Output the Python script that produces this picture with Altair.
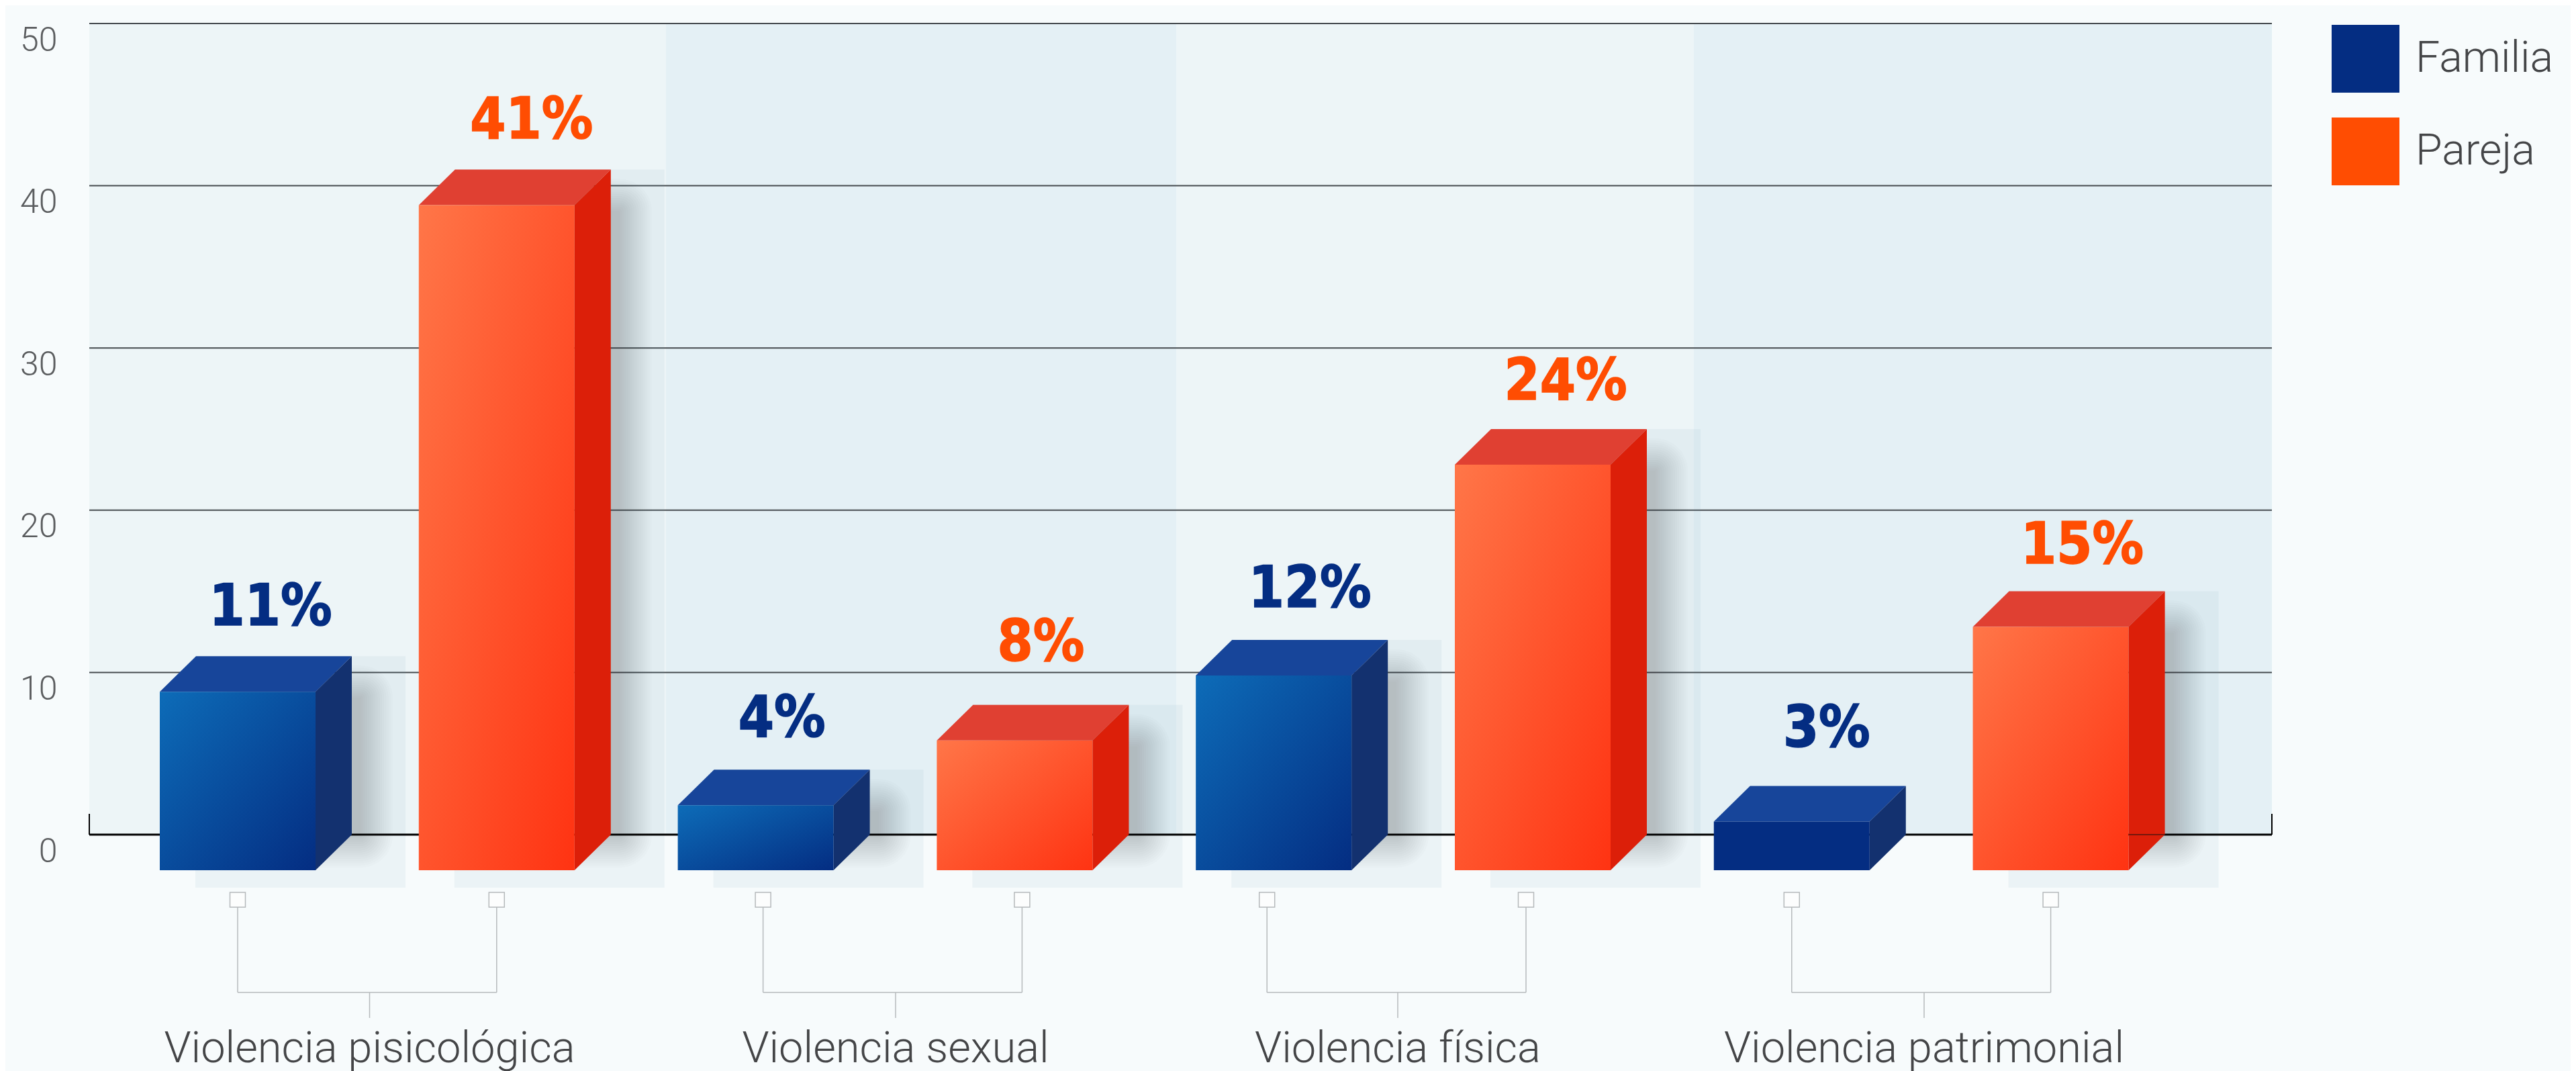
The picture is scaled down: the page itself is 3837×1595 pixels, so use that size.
import altair as alt
import pandas as pd

# ---- data ----
categorias = ["Violencia pisicológica", "Violencia sexual", "Violencia física", "Violencia patrimonial"]
familia = [11, 4, 12, 3]
pareja = [41, 8, 24, 15]
# the drawn height of the 24 % bar in the reference reaches 25 on the axis
altura_familia = [11, 4, 12, 3]
altura_pareja = [41, 8, 25, 15]
series = ["Familia", "Pareja"]
y_ticks = [0, 10, 20, 30, 40, 50]

# ---- layout helpers (pixel -> data units) ----
W, H = 3251, 1208
PX_Y = H / 50.0
def yv(py):
    return (1243 - py) / PX_Y
def xv(px):
    return px - 133

BAR_W, DX, DYP = 232, 54, 53
DY = DYP / PX_Y
SLOT0, SLOT = xv(238), 385.8
FONT = "Roboto"
TXT = "#444547"
# hand nudges of the value labels, in pixels, bar by bar
label_dx = [-5, -2, -15, -15, 0, -5, -2, -7]
label_dy = [2, 2, 5, 22, 5, 0, 15, -2]

rows = []
for g, cat in enumerate(categorias):
    for s, (name, vals, alts) in enumerate(zip(series, [familia, pareja], [altura_familia, altura_pareja])):
        i = g * 2 + s
        v, a = vals[g], alts[g]
        x0 = SLOT0 + SLOT * i
        rows.append(dict(id=i, cat=cat, serie=name, valor=a, etiqueta=f"{v}%",
                         x0=x0, x1=x0 + BAR_W, xb=x0 + DX, x1b=x0 + BAR_W + DX,
                         ftop=a - DY, fbot=-DY, lx=x0 + DX + BAR_W / 2 + label_dx[i],
                         ly=a + (44 + label_dy[i]) / PX_Y))
bars = pd.DataFrame(rows)

xs = alt.Scale(domain=[0, W], nice=False, zero=False)
ys = alt.Scale(domain=[0, 50], nice=False, zero=False)
y_axis = alt.Axis(values=y_ticks, grid=False, domain=False, ticks=False, title=None,
                  labelFont=FONT, labelFontWeight=300, labelFontSize=50, labelColor="#5b5d5f",
                  labelPadding=48, labelOffset=25, labelAlign="right", labelBaseline="middle",
                  labelFlush=False, labelOverlap=False, labelBound=False)
def X(f): return alt.X(f, type="quantitative", scale=xs, axis=None, title=None)
def Y(f, **k): return alt.Y(f, type="quantitative", scale=ys, axis=y_axis, title=None, **k)
def X2(f): return alt.X2(f)
def Y2(f): return alt.Y2(f)

layers = []

# alternating background bands (one per category)
bands = pd.DataFrame({"a": [0, xv(992), xv(1752), xv(2523)],
                      "b": [xv(992), xv(1752), xv(2523), W],
                      "c": ["#edf5f7", "#e4f0f5", "#edf5f7", "#e4f0f5"],
                      "t": 0, "u": 50})
layers.append(alt.Chart(bands).mark_rect().encode(
    x=X("a"), x2=X2("b"), y=Y("t"), y2=Y2("u"),
    color=alt.Color("c:N", scale=None)))

# gridlines
grid = pd.DataFrame({"y": [t for t in y_ticks if t > 0]})
layers.append(alt.Chart(grid).mark_rule(color="#474c50", strokeWidth=2).encode(
    y=Y("y"), x=alt.value(0), x2=alt.value(W)))

# translucent panels behind bars
panels = bars[bars.valor > 3].copy()
panels["pa"] = panels.x0 + 53
panels["pb"] = panels.x0 + 366
panels["pbot"] = yv(1322)
layers.append(alt.Chart(panels).mark_rect(color="#649db8", opacity=0.08).encode(
    x=X("pa"), x2=X2("pb"), y=Y("valor"), y2=Y2("pbot")))

# axis base line with end ticks
layers.append(alt.Chart(pd.DataFrame({"y": [0]})).mark_rule(color="#000000", strokeWidth=3).encode(
    y=Y("y"), x=alt.value(0), x2=alt.value(W)))
ends = pd.DataFrame({"x": [0, W], "a": [yv(1212)] * 2, "b": [0, 0]})
layers.append(alt.Chart(ends).mark_rule(color="#000000", strokeWidth=2).encode(
    x=X("x"), y=Y("a"), y2=Y2("b")))

# soft drop shadows: stacked concentric rectangles
N = 16
for k in range(N):
    inset = 24 - k * 48 / (N - 1)   # positive = larger
    sh = panels.copy()
    sh["sa"] = sh.x0 + 100 - inset
    sh["sb"] = sh.x1b + 37 + inset
    sh["st"] = sh.valor - (38 - inset) / PX_Y
    sh["sd"] = -(25 + inset) / PX_Y
    layers.append(alt.Chart(sh).mark_rect(color="#39424a", opacity=0.016,
                                          cornerRadius=max(1, inset + 24)).encode(
        x=X("sa"), x2=X2("sb"), y=Y("st"), y2=Y2("sd")))

# 3-D faces
palette = {
    "Familia": dict(a="#0d6cb8", b="#042d82", side="#13316f", top="#17459a"),
    "Pareja": dict(a="#ff7648", b="#ff3312", side="#dc1f09", top="#e04032"),
}
for name in series:
    d = bars[bars.serie == name]
    p = palette[name]
    # top face
    top_rows = []
    for r in d.itertuples():
        top_rows += [dict(id=r.id, x=r.x0, lo=r.ftop, up=r.ftop),
                     dict(id=r.id, x=r.xb, lo=r.ftop, up=r.valor),
                     dict(id=r.id, x=r.x1, lo=r.ftop, up=r.valor),
                     dict(id=r.id, x=r.x1b, lo=r.valor, up=r.valor)]
    layers.append(alt.Chart(pd.DataFrame(top_rows)).mark_area(color=p["top"], interpolate="linear").encode(
        x=X("x"), y=Y("up", stack=None), y2=Y2("lo"), detail="id:N"))
    # side face
    side_rows = []
    for r in d.itertuples():
        side_rows += [dict(id=r.id, x=r.x1, lo=r.fbot, up=r.ftop),
                      dict(id=r.id, x=r.x1b, lo=0.0, up=r.valor)]
    layers.append(alt.Chart(pd.DataFrame(side_rows)).mark_area(color=p["side"], interpolate="linear").encode(
        x=X("x"), y=Y("up", stack=None), y2=Y2("lo"), detail="id:N"))
    # front face
    grad = alt.LinearGradient(gradient="linear", x1=0, y1=0, x2=1, y2=1,
                              stops=[alt.GradientStop(color=p["a"], offset=0),
                                     alt.GradientStop(color=p["b"], offset=1)])
    layers.append(alt.Chart(d[d.valor > 3]).mark_rect(color=grad).encode(
        x=X("x0"), x2=X2("x1"), y=Y("ftop"), y2=Y2("fbot")))
    flat = d[d.valor <= 3]
    if len(flat):
        layers.append(alt.Chart(flat).mark_rect(color=p["b"]).encode(
            x=X("x0"), x2=X2("x1"), y=Y("ftop"), y2=Y2("fbot")))

# thin base line visible across the last bar's side face
last = bars.iloc[[-1]].copy()
last["y0"] = 0.0
layers.append(alt.Chart(last).mark_rule(color="#111111", strokeWidth=1).encode(
    x=X("x1"), x2=X2("x1b"), y=Y("y0")))

# value labels + legend
layers.append(alt.Chart(bars).mark_text(font="DejaVu Sans Condensed", fontWeight="bold", fontSize=85,
                                        strokeWidth=1.5, baseline="alphabetic", align="center").encode(
    x=X("lx"), y=Y("ly"), text="etiqueta:N",
    stroke=alt.Stroke("serie:N", scale=alt.Scale(domain=series, range=["#042d82", "#ff4d02"]), legend=None),
    color=alt.Color("serie:N",
                    scale=alt.Scale(domain=series, range=["#042d82", "#ff4d02"]),
                    legend=alt.Legend(title=None, orient="none", legendX=xv(3474) - 1, legendY=2,
                                      symbolType="square", symbolSize=10201, symbolStrokeWidth=0,
                                      labelFont=FONT, labelFontWeight=300, labelFontSize=64.5, labelColor=TXT,
                                      labelLimit=400, rowPadding=37, labelOffset=24, padding=0))))

# bracket connectors
shift = [0, 11, -10, 0]
stem = [xv(550.5), xv(1334), xv(2082), xv(2866)]
br_rows, sq_rows, stem_rows, cat_rows = [], [], [], []
for g, cat in enumerate(categorias):
    l = SLOT0 + SLOT * (2 * g) + BAR_W / 2 + shift[g]
    r = SLOT0 + SLOT * (2 * g + 1) + BAR_W / 2 + shift[g]
    br_rows.append(dict(a=l, b=r))
    for c in (l, r):
        sq_rows.append(dict(a=c - 11.5, b=c + 11.5, c=c, t=yv(1329), d=yv(1351), e=yv(1478)))
    stem_rows.append(dict(x=stem[g], a=yv(1478), b=yv(1516)))
    cat_rows.append(dict(x=stem[g], y=yv(1582), cat=cat))
LINE = "#b6babc"
layers.append(alt.Chart(pd.DataFrame(sq_rows)).mark_rule(color=LINE, strokeWidth=1.5).encode(
    x=X("c"), y=Y("d"), y2=Y2("e")))
layers.append(alt.Chart(pd.DataFrame(sq_rows)).mark_rect(fill="#fcfdfd", stroke="#b5b9bb", strokeWidth=1.5).encode(
    x=X("a"), x2=X2("b"), y=Y("t"), y2=Y2("d")))
hline = pd.DataFrame(br_rows)
hline["y"] = yv(1478)
layers.append(alt.Chart(hline).mark_rule(color=LINE, strokeWidth=1.5).encode(
    x=X("a"), x2=X2("b"), y=Y("y")))
layers.append(alt.Chart(pd.DataFrame(stem_rows)).mark_rule(color=LINE, strokeWidth=1.5).encode(
    x=X("x"), y=Y("a"), y2=Y2("b")))
layers.append(alt.Chart(pd.DataFrame(cat_rows)).mark_text(font=FONT, fontWeight=300, fontSize=65, color=TXT,
                                                          baseline="alphabetic", align="center").encode(
    x=X("x"), y=Y("y"), text="cat:N"))

chart = alt.layer(*layers).properties(
    width=W, height=H,
    background="#f7fbfc",
    padding={"left": 125, "top": 27, "right": 445, "bottom": 352},
    autosize=alt.AutoSizeParams(type="none"),
).configure_view(stroke=None)

chart.save("out.html", embed_options={"renderer": "svg", "actions": False})
